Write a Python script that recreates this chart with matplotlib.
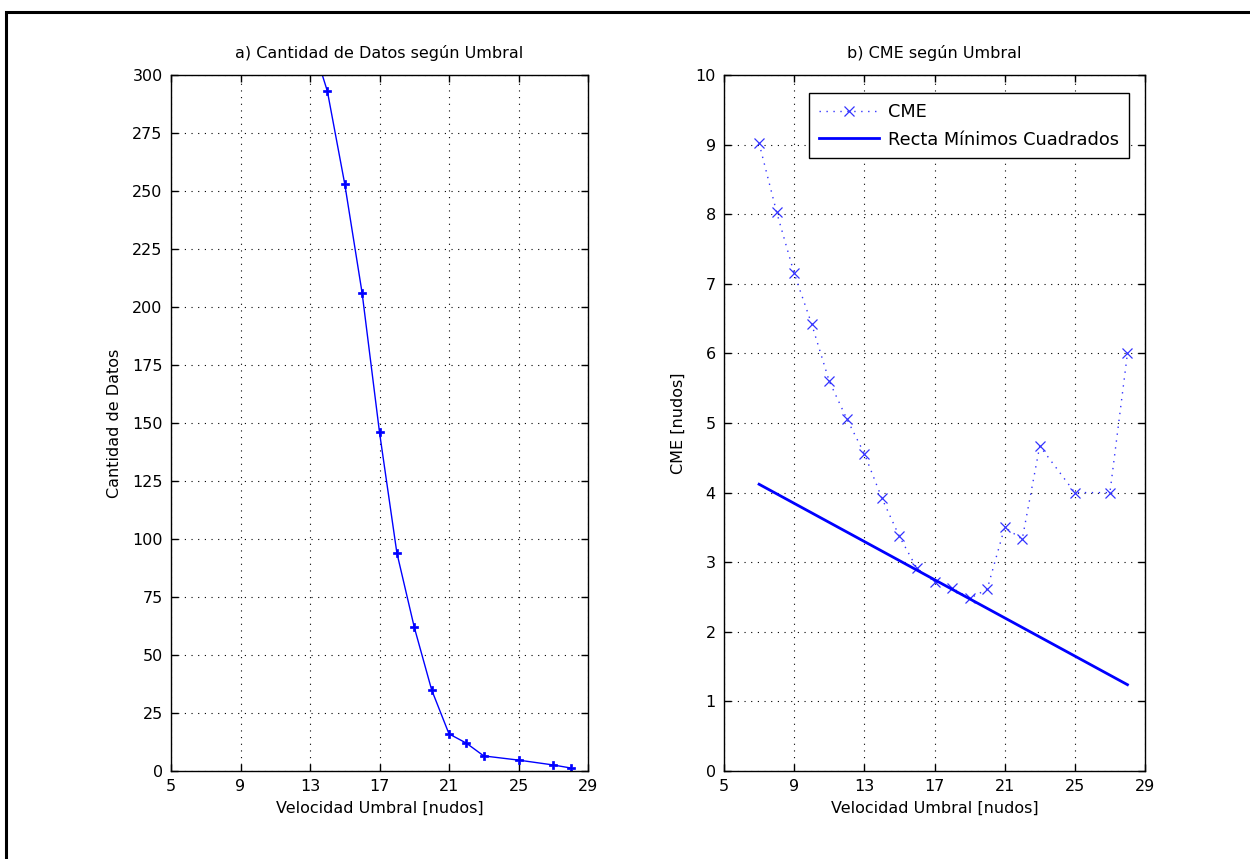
import matplotlib
matplotlib.use("Agg")
import matplotlib.pyplot as plt
from matplotlib.patches import Rectangle
import numpy as np

# Threshold wind speeds [knots] and number of data above each threshold
umbral_cant = [13, 14, 15, 16, 17, 18, 19, 20, 21, 22, 23, 25, 27, 28]
cantidad = [317, 293, 253, 206, 146, 94, 62, 35, 16, 12, 6.5, 4.7, 2.6, 1.3]

# Mean squared error per threshold
umbral_cme = [7, 8, 9, 10, 11, 12, 13, 14, 15, 16, 17, 18, 19, 20, 21, 22, 23, 25, 27, 28]
cme = [9.02, 8.03, 7.15, 6.42, 5.6, 5.06, 4.56, 3.92, 3.37, 2.91, 2.72, 2.63, 2.48,
       2.61, 3.5, 3.33, 4.67, 4.0, 4.0, 6.0]

# Least-squares line endpoints
recta_x = [7, 28]
recta_y = [4.12, 1.24]

x_ticks = [5, 9, 13, 17, 21, 25, 29]
y_ticks_cant = list(range(0, 301, 25))
y_ticks_cme = list(range(0, 11))

plt.rcParams['font.family'] = ['DejaVu Sans']
fig = plt.figure(figsize=(12.5, 8.59), dpi=100)

# outer frame
fig.patches.append(Rectangle((6 / 1250, -0.5), 2.0, 0.5 + 1 - 12 / 859,
                             transform=fig.transFigure, fill=False,
                             edgecolor='black', linewidth=2.2, clip_on=False))

ax1 = fig.add_axes([171 / 1250, 1 - 771 / 859, 417 / 1250, 696 / 859])
ax2 = fig.add_axes([724 / 1250, 1 - 771 / 859, 421 / 1250, 696 / 859])

grid_style = dict(color='black', linestyle=(0, (1, 5)), linewidth=0.8)

def style(ax):
    ax.grid(True, **grid_style)
    ax.set_axisbelow(True)
    ax.tick_params(direction='in', length=5, width=1, top=True, right=True,
                   labelsize=11.5, pad=6)
    for s in ax.spines.values():
        s.set_linewidth(1.0)
        s.set_color('black')

ax1.plot(umbral_cant, cantidad, color='blue', linewidth=1.0, marker='P',
         markersize=5.5, markeredgewidth=0.5)
ax1.set_xlim(5, 29)
ax1.set_ylim(0, 300)
ax1.set_xticks(x_ticks)
ax1.set_yticks(y_ticks_cant)
style(ax1)
ax1.set_title('a) Cantidad de Datos según Umbral', fontsize=11.5, pad=12)
ax1.set_xlabel('Velocidad Umbral [nudos]', fontsize=11.5, labelpad=5)
ax1.set_ylabel('Cantidad de Datos', fontsize=11.5, labelpad=7)

ax2.plot(umbral_cme, cme, color='#3333ff', linestyle=(0, (1, 4)), linewidth=1.0,
         marker='x', markersize=6.5, markeredgewidth=0.9, label='CME')
ax2.plot(recta_x, recta_y, color='blue', linewidth=2.0,
         label='Recta Mínimos Cuadrados')
ax2.set_xlim(5, 29)
ax2.set_ylim(0, 10)
ax2.set_xticks(x_ticks)
ax2.set_yticks(y_ticks_cme)
style(ax2)
ax2.set_title('b) CME según Umbral', fontsize=11.5, pad=12)
ax2.set_xlabel('Velocidad Umbral [nudos]', fontsize=11.5, labelpad=5)
ax2.set_ylabel('CME [nudos]', fontsize=11.5, labelpad=7)
leg = ax2.legend(loc='upper right', bbox_to_anchor=(0.962, 0.974), fontsize=12.8,
                 fancybox=False, framealpha=1, edgecolor='black',
                 handlelength=3.4, handletextpad=0.5, borderpad=0.55,
                 labelspacing=0.55, borderaxespad=0)
leg.get_frame().set_linewidth(1.0)

fig.savefig('out.png', dpi=100)
